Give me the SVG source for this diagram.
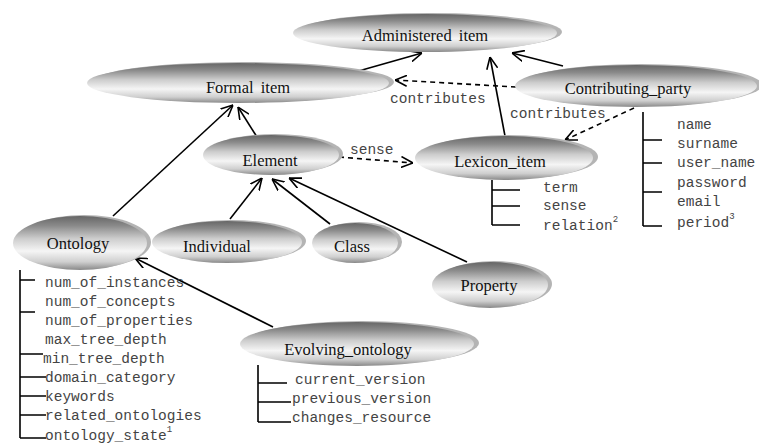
<svg xmlns="http://www.w3.org/2000/svg" width="759" height="443" viewBox="0 0 759 443">
<defs>
<linearGradient id="g" x1="0" y1="0" x2="0" y2="1">
<stop offset="0" stop-color="#666"/>
<stop offset="0.18" stop-color="#8a8a8a"/>
<stop offset="0.42" stop-color="#cdcdcd"/>
<stop offset="0.65" stop-color="#f5f5f5"/>
<stop offset="0.85" stop-color="#cfcfcf"/>
<stop offset="1" stop-color="#888"/>
</linearGradient>
<marker id="arr" viewBox="0 0 12 12" refX="12" refY="6" markerWidth="12" markerHeight="12" markerUnits="userSpaceOnUse" orient="auto">
<path d="M0,0.5 L12,6 L0,11.5" fill="none" stroke="#000" stroke-width="1.6"/>
</marker>
</defs>
<style>
.sh{fill:#b4b4b4}
.el{fill:url(#g)}
.lbl{font-family:"Liberation Serif","Times New Roman",serif;font-size:16.5px;fill:#111;text-anchor:middle;word-spacing:3px}
.at{font-family:"Liberation Mono","Courier New",monospace;font-size:14.5px;fill:#444}
.sup{font-size:9px}
.ln{stroke:#000;stroke-width:1.6;fill:none}
.ds{stroke:#000;stroke-width:1.6;fill:none;stroke-dasharray:5,4}
.tr{stroke:#000;stroke-width:1.6;fill:none}
</style>
<rect width="759" height="443" fill="#fff"/>

<g id="connectors">
<line class="ln" x1="355" y1="72" x2="422" y2="53" marker-end="url(#arr)"/>
<line class="ln" x1="563" y1="66" x2="512" y2="53" marker-end="url(#arr)"/>
<line class="ln" x1="505" y1="136" x2="490" y2="57" marker-end="url(#arr)"/>
<line class="ds" x1="516" y1="87" x2="395" y2="80" marker-end="url(#arr)"/>
<line class="ds" x1="634" y1="108" x2="565" y2="140" marker-end="url(#arr)"/>
<line class="ds" x1="339" y1="157" x2="413" y2="163" marker-end="url(#arr)"/>
<line class="ln" x1="257" y1="137" x2="238" y2="107" marker-end="url(#arr)"/>
<line class="ln" x1="113" y1="216" x2="233" y2="105" marker-end="url(#arr)"/>
<line class="ln" x1="230" y1="219" x2="262" y2="178" marker-end="url(#arr)"/>
<line class="ln" x1="330" y1="224" x2="272" y2="179" marker-end="url(#arr)"/>
<line class="ln" x1="467" y1="262" x2="289" y2="178" marker-end="url(#arr)"/>
<line class="ln" x1="273" y1="327" x2="135" y2="258" marker-end="url(#arr)"/>
<text class="at" x="390" y="103">contributes</text>
<text class="at" x="510" y="118">contributes</text>
<text class="at" x="350" y="154">sense</text>
</g>

<g id="administered_item">
<ellipse class="sh" cx="430" cy="32" rx="132" ry="19"/>
<ellipse class="el" cx="425" cy="33" rx="132" ry="19"/>
<text class="lbl" x="425" y="41">Administered item</text>
</g>

<g id="formal_item">
<ellipse class="sh" cx="243" cy="82" rx="151" ry="20"/>
<ellipse class="el" cx="238" cy="83" rx="151" ry="20"/>
<text class="lbl" x="248" y="93">Formal item</text>
</g>

<g id="contributing_party">
<ellipse class="sh" cx="641" cy="85" rx="121" ry="21"/>
<ellipse class="el" cx="636" cy="86" rx="121" ry="21"/>
<text class="lbl" x="628" y="94">Contributing_party</text>
<path class="tr" d="M643,112 V226 M643,140 H662 M643,163 H662 M643,192 H662 M643,226 H662"/>
<text class="at" x="677" y="129">name</text>
<text class="at" x="677" y="148">surname</text>
<text class="at" x="677" y="167">user_name</text>
<text class="at" x="677" y="187">password</text>
<text class="at" x="677" y="206">email</text>
<text class="at" x="677" y="227">period<tspan class="sup" dy="-8">3</tspan></text>
</g>

<g id="lexicon_item">
<ellipse class="sh" cx="509" cy="157" rx="89" ry="22"/>
<ellipse class="el" cx="504" cy="158" rx="89" ry="22"/>
<text class="lbl" x="500" y="167">Lexicon_item</text>
<path class="tr" d="M492,180 V225 M492,190 H520 M492,206 H520 M492,225 H520"/>
<text class="at" x="543" y="192">term</text>
<text class="at" x="543" y="210">sense</text>
<text class="at" x="543" y="230">relation<tspan class="sup" dy="-8">2</tspan></text>
</g>

<g id="element">
<ellipse class="sh" cx="275" cy="154" rx="68" ry="20"/>
<ellipse class="el" cx="271" cy="155" rx="68" ry="20"/>
<text class="lbl" x="270" y="166">Element</text>
</g>

<g id="ontology">
<ellipse class="sh" cx="84" cy="242" rx="67" ry="27"/>
<ellipse class="el" cx="80" cy="243" rx="67" ry="27"/>
<text class="lbl" x="78" y="249">Ontology</text>
<path class="tr" d="M20,270 V438 M20,280 H35 M20,312 H35 M20,354 H43 M20,377 H46 M20,396 H46 M20,415 H46 M20,438 H46"/>
<text class="at" x="45" y="287">num_of_instances</text>
<text class="at" x="45" y="306">num_of_concepts</text>
<text class="at" x="45" y="325">num_of_properties</text>
<text class="at" x="45" y="344">max_tree_depth</text>
<text class="at" x="43" y="363">min_tree_depth</text>
<text class="at" x="45" y="382">domain_category</text>
<text class="at" x="45" y="401">keywords</text>
<text class="at" x="45" y="420">related_ontologies</text>
<text class="at" x="45" y="440">ontology_state<tspan class="sup" dy="-8">1</tspan></text>
</g>

<g id="individual">
<ellipse class="sh" cx="231" cy="241" rx="75" ry="21"/>
<ellipse class="el" cx="227" cy="242" rx="75" ry="21"/>
<text class="lbl" x="217" y="252">Individual</text>
</g>

<g id="class">
<ellipse class="sh" cx="359" cy="242" rx="43" ry="20"/>
<ellipse class="el" cx="355" cy="243" rx="43" ry="20"/>
<text class="lbl" x="352" y="252">Class</text>
</g>

<g id="property">
<ellipse class="sh" cx="494" cy="284" rx="58" ry="23"/>
<ellipse class="el" cx="490" cy="285" rx="58" ry="23"/>
<text class="lbl" x="489" y="291">Property</text>
</g>

<g id="evolving_ontology">
<ellipse class="sh" cx="362" cy="343" rx="117" ry="22"/>
<ellipse class="el" cx="357" cy="344" rx="117" ry="22"/>
<text class="lbl" x="348" y="355">Evolving_ontology</text>
<path class="tr" d="M258,365 V422 M258,383 H287 M258,402 H291 M258,422 H291"/>
<text class="at" x="295" y="384">current_version</text>
<text class="at" x="292" y="403">previous_version</text>
<text class="at" x="292" y="422">changes_resource</text>
</g>
</svg>
